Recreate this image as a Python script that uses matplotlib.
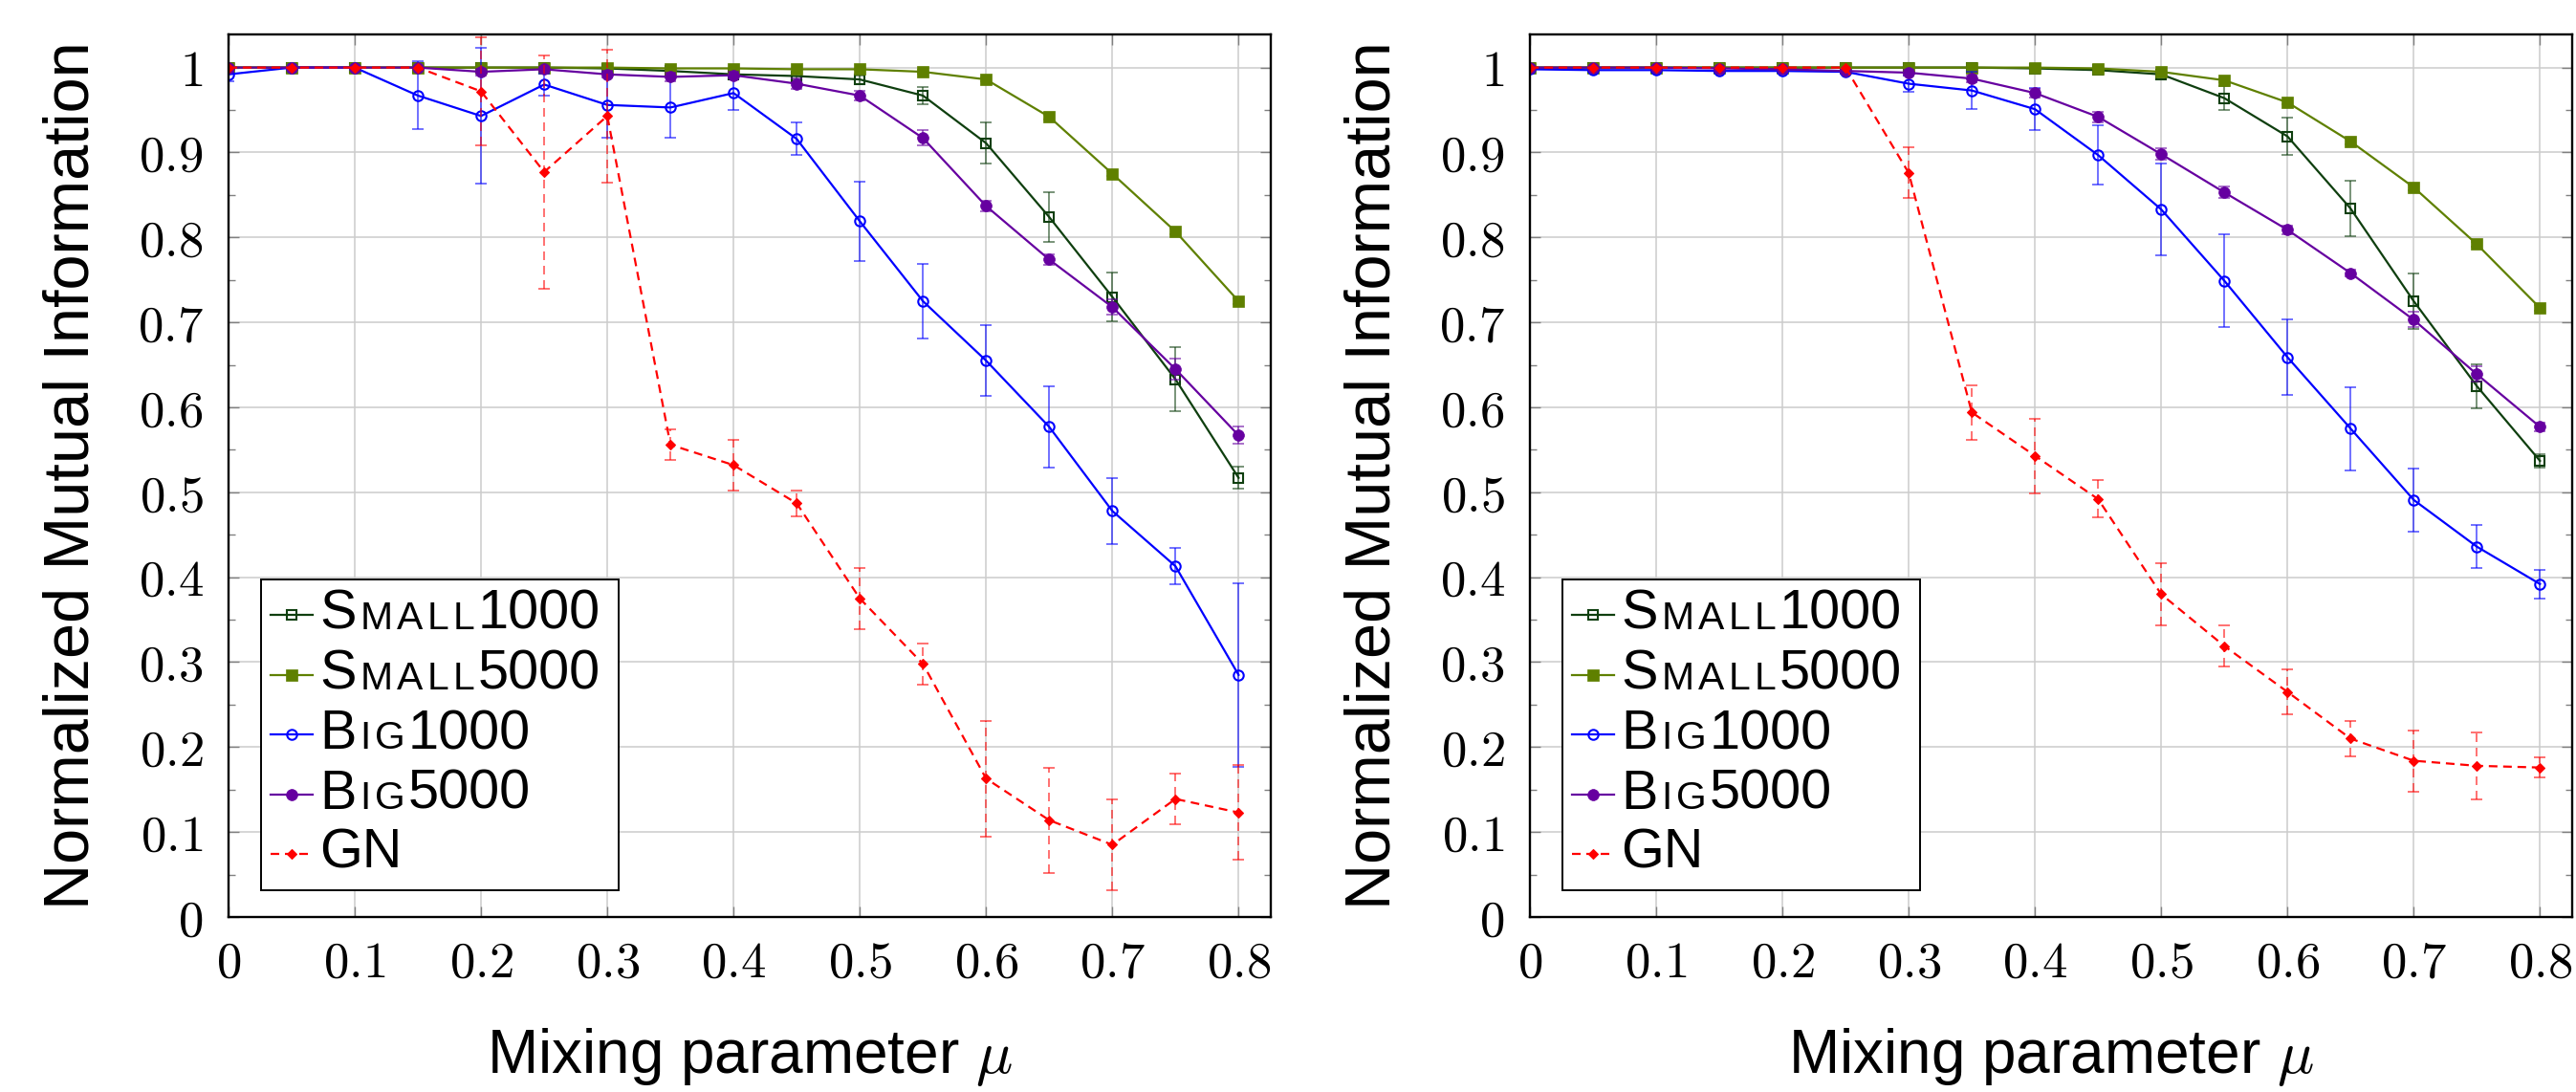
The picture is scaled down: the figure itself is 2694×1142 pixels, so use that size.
import numpy as np
import matplotlib
matplotlib.use('Agg')
import matplotlib.pyplot as plt
from matplotlib.ticker import MultipleLocator, FuncFormatter
from matplotlib.offsetbox import AnchoredOffsetbox, HPacker, TextArea, DrawingArea
from matplotlib.lines import Line2D
from matplotlib.patches import Rectangle
from matplotlib.colors import to_rgba

plt.rcParams['mathtext.fontset'] = 'cm'
plt.rcParams['font.family'] = ['Liberation Sans', 'DejaVu Sans']
plt.rcParams['lines.scale_dashes'] = False

# ---------------- data ----------------
mu = [0.0, 0.05, 0.1, 0.15, 0.2, 0.25, 0.3, 0.35, 0.4, 0.45, 0.5, 0.55, 0.6, 0.65, 0.7, 0.75, 0.8]

# left panel
small1000_l = [1.0, 1.0, 1.0, 1.0, 1.0, 1.0, 0.999, 0.996, 0.992, 0.990, 0.986, 0.967, 0.911, 0.824, 0.730, 0.633, 0.517]
small1000_l_err = [0, 0, 0, 0, 0, 0, 0.002, 0.003, 0.004, 0.004, 0.005, 0.010, 0.024, 0.029, 0.029, 0.038, 0.013]
small5000_l = [1.0, 1.0, 1.0, 1.0, 1.0, 1.0, 1.0, 0.999, 0.999, 0.998, 0.998, 0.995, 0.986, 0.942, 0.875, 0.807, 0.725]
small5000_l_err = [0, 0, 0, 0, 0, 0, 0, 0, 0, 0, 0.001, 0.002, 0.002, 0.003, 0.003, 0.003, 0.003]
big1000_l = [0.992, 1.0, 1.0, 0.967, 0.943, 0.980, 0.956, 0.953, 0.970, 0.916, 0.819, 0.725, 0.655, 0.577, 0.478, 0.413, 0.285]
big1000_l_err = [0.008, 0, 0, 0.040, 0.080, 0.013, 0.039, 0.036, 0.020, 0.019, 0.047, 0.044, 0.042, 0.048, 0.039, 0.021, 0.108]
big5000_l = [1.0, 1.0, 1.0, 1.0, 0.995, 0.998, 0.992, 0.989, 0.991, 0.981, 0.967, 0.917, 0.837, 0.774, 0.718, 0.645, 0.567]
big5000_l_err = [0, 0, 0, 0, 0.004, 0.003, 0.004, 0.005, 0.004, 0.006, 0.006, 0.009, 0.006, 0.006, 0.009, 0.012, 0.010]
gn_l = [1.0, 1.0, 1.0, 1.0, 0.972, 0.877, 0.943, 0.556, 0.532, 0.487, 0.375, 0.298, 0.163, 0.114, 0.085, 0.139, 0.123]
gn_l_err = [0, 0, 0, 0, 0.064, 0.137, 0.078, 0.018, 0.030, 0.015, 0.036, 0.024, 0.068, 0.062, 0.053, 0.030, 0.056]

# right panel
small1000_r = [1.0, 1.0, 1.0, 1.0, 1.0, 1.0, 1.0, 1.0, 0.999, 0.997, 0.992, 0.964, 0.919, 0.834, 0.725, 0.625, 0.537]
small1000_r_err = [0, 0, 0, 0, 0, 0, 0, 0, 0.001, 0.002, 0.004, 0.014, 0.022, 0.033, 0.033, 0.026, 0.008]
small5000_r = [1.0, 1.0, 1.0, 1.0, 1.0, 1.0, 1.0, 1.0, 1.0, 0.999, 0.995, 0.985, 0.959, 0.913, 0.859, 0.792, 0.717]
small5000_r_err = [0, 0, 0, 0, 0, 0, 0, 0, 0, 0, 0.001, 0.002, 0.002, 0.003, 0.003, 0.003, 0.003]
big1000_r = [0.998, 0.997, 0.997, 0.996, 0.996, 0.995, 0.981, 0.973, 0.951, 0.897, 0.833, 0.749, 0.659, 0.575, 0.491, 0.436, 0.392]
big1000_r_err = [0.002, 0.002, 0.002, 0.002, 0.002, 0.002, 0.010, 0.022, 0.025, 0.035, 0.054, 0.055, 0.044, 0.049, 0.037, 0.025, 0.017]
big5000_r = [1.0, 1.0, 1.0, 0.999, 0.998, 0.996, 0.994, 0.987, 0.970, 0.942, 0.898, 0.853, 0.809, 0.758, 0.703, 0.639, 0.577]
big5000_r_err = [0.001, 0.001, 0.001, 0.001, 0.001, 0.001, 0.003, 0.004, 0.005, 0.006, 0.007, 0.007, 0.005, 0.004, 0.009, 0.009, 0.005]
gn_r = [1.0, 1.0, 1.0, 1.0, 1.0, 1.0, 0.876, 0.594, 0.543, 0.492, 0.380, 0.319, 0.265, 0.210, 0.184, 0.178, 0.176]
gn_r_err = [0, 0, 0, 0, 0, 0, 0.030, 0.032, 0.044, 0.022, 0.037, 0.024, 0.026, 0.021, 0.036, 0.039, 0.012]

series_names = [('S', 'MALL', '1000'), ('S', 'MALL', '5000'), ('B', 'IG', '1000'),
                ('B', 'IG', '5000'), ('GN', '', '')]
x_ticks = [0, 0.1, 0.2, 0.3, 0.4, 0.5, 0.6, 0.7, 0.8]
y_ticks = [0, 0.1, 0.2, 0.3, 0.4, 0.5, 0.6, 0.7, 0.8, 0.9, 1.0]
xlabel_text = r'Mixing parameter $\mu$'
ylabel_text = 'Normalized Mutual Information'

# ---------------- styles ----------------
DASH = (0, (6.5, 4.3))
styles = [
    dict(color='#0f3f0f', marker='s', mfc='none', ms=7, mew=1.5, ls='-'),
    dict(color='#5f8000', marker='s', mfc='#5f8000', ms=8.5, mew=0.5, ls='-'),
    dict(color='#0000ff', marker='o', mfc='none', ms=7.5, mew=1.5, ls='-'),
    dict(color='#6600a0', marker='o', mfc='#6600a0', ms=8.5, mew=0.5, ls='-'),
    dict(color='#ff0000', marker='D', mfc='#ff0000', ms=5, mew=0.8, ls=DASH),
]

W, H = 2694, 1142
fig = plt.figure(figsize=(W / 100, H / 100), dpi=100)
AX_B, AX_T = 959, 36
ax_l = fig.add_axes([239 / W, 1 - AX_B / H, 1090 / W, (AX_B - AX_T) / H])
ax_r = fig.add_axes([1600 / W, 1 - AX_B / H, 1090 / W, (AX_B - AX_T) / H])


def tick_fmt(v, pos):
    if abs(v - round(v)) < 1e-9:
        s = '%d' % round(v)
    else:
        s = '%.1f' % v
    return r'$%s$' % s


def draw_panel(ax, data):
    x = np.array(mu)
    for i, (vals, errs) in enumerate(data):
        st = styles[i]
        y = np.array(vals)
        e = np.array(errs)
        m = e > 0
        z = 3 + i * 0.1
        if m.any():
            cont = ax.errorbar(x[m], y[m], yerr=e[m], fmt='none',
                               ecolor=to_rgba(st['color'], 0.6),
                               elinewidth=1.3, capsize=4, capthick=1.3, zorder=z)
            if i == 4:
                for lc in cont.lines[2]:
                    lc.set_linestyle(DASH)
        ax.plot(x, y, color=st['color'], lw=1.6, ls=st['ls'], marker=st['marker'],
                ms=st['ms'], mfc=st['mfc'], mec=st['color'], mew=st['mew'], zorder=z + 0.05)

    ax.set_xlim(0, 0.8255)
    ax.set_ylim(0, 1.039)
    ax.set_xticks(x_ticks)
    ax.set_yticks(y_ticks)
    ax.yaxis.set_minor_locator(MultipleLocator(0.05))
    ax.xaxis.set_major_formatter(FuncFormatter(tick_fmt))
    ax.yaxis.set_major_formatter(FuncFormatter(tick_fmt))
    ax.grid(True, which='major', color='#cccccc', lw=1.1)
    ax.set_axisbelow(True)
    ax.tick_params(which='both', direction='in', top=True, right=True, color='#808080', width=1.0)
    ax.tick_params(which='major', length=8)
    ax.tick_params(which='minor', length=5)
    ax.tick_params(axis='y', which='major', labelsize=38, pad=19)
    ax.tick_params(axis='x', which='major', labelsize=38, pad=17)
    ax.tick_params(axis='x', which='minor', top=False, bottom=False)
    for sp in ax.spines.values():
        sp.set_linewidth(1.7)
        sp.set_color('black')
        sp.set_zorder(10)

    # legend
    axw, axh = 1090.0, float(AX_B - AX_T)
    ax.add_patch(Rectangle(((273 - 239) / axw, (AX_B - 931) / axh), 374 / axw, 325 / axh,
                           transform=ax.transAxes, facecolor='white', edgecolor='black',
                           lw=1.4, zorder=20, clip_on=False))
    row_y = [643, 706, 768, 831, 893]
    big = 41.5
    small = big * 0.71
    for i, parts in enumerate(series_names):
        st = styles[i]
        da = DrawingArea(32, 30, 0, 0)
        yl = 15
        da.add_artist(Line2D([0, 32], [yl, yl], color=st['color'], lw=1.6, ls=st['ls']))
        da.add_artist(Line2D([16], [yl], ls='none', marker=st['marker'], ms=st['ms'],
                             mfc=st['mfc'], mec=st['color'], mew=st['mew']))
        kids = [TextArea(parts[0], textprops=dict(fontsize=big, color='black'))]
        if parts[1]:
            sc = [TextArea(ch, textprops=dict(fontsize=small, color='black')) for ch in parts[1]]
            kids.append(HPacker(children=sc, sep=3.2, pad=0, align='baseline'))
        if parts[2]:
            kids.append(TextArea(parts[2], textprops=dict(fontsize=big, color='black')))
        txt = HPacker(children=kids, sep=2.5, pad=0, align='baseline')
        row = HPacker(children=[da, txt], sep=5, pad=0, align='center')
        ab = AnchoredOffsetbox(loc='center left', child=row, pad=0, borderpad=0, frameon=False,
                               bbox_to_anchor=((283 - 239) / axw, (AX_B - row_y[i]) / axh),
                               bbox_transform=ax.transAxes)
        ab.set_zorder(21)
        ax.add_artist(ab)


draw_panel(ax_l, [(small1000_l, small1000_l_err), (small5000_l, small5000_l_err),
                  (big1000_l, big1000_l_err), (big5000_l, big5000_l_err), (gn_l, gn_l_err)])
draw_panel(ax_r, [(small1000_r, small1000_r_err), (small5000_r, small5000_r_err),
                  (big1000_r, big1000_r_err), (big5000_r, big5000_r_err), (gn_r, gn_r_err)])

# axis labels
for xl, xc in [(93, 784), (1454, 2145)]:
    fig.text(xl / W, 1 - 497 / H, ylabel_text, rotation=90, rotation_mode='anchor',
             ha='center', va='baseline', fontsize=48)
    fig.text(xc / W, 1 - 1122 / H, xlabel_text, ha='center', va='baseline', fontsize=46)

fig.savefig('out.png', dpi=100)
